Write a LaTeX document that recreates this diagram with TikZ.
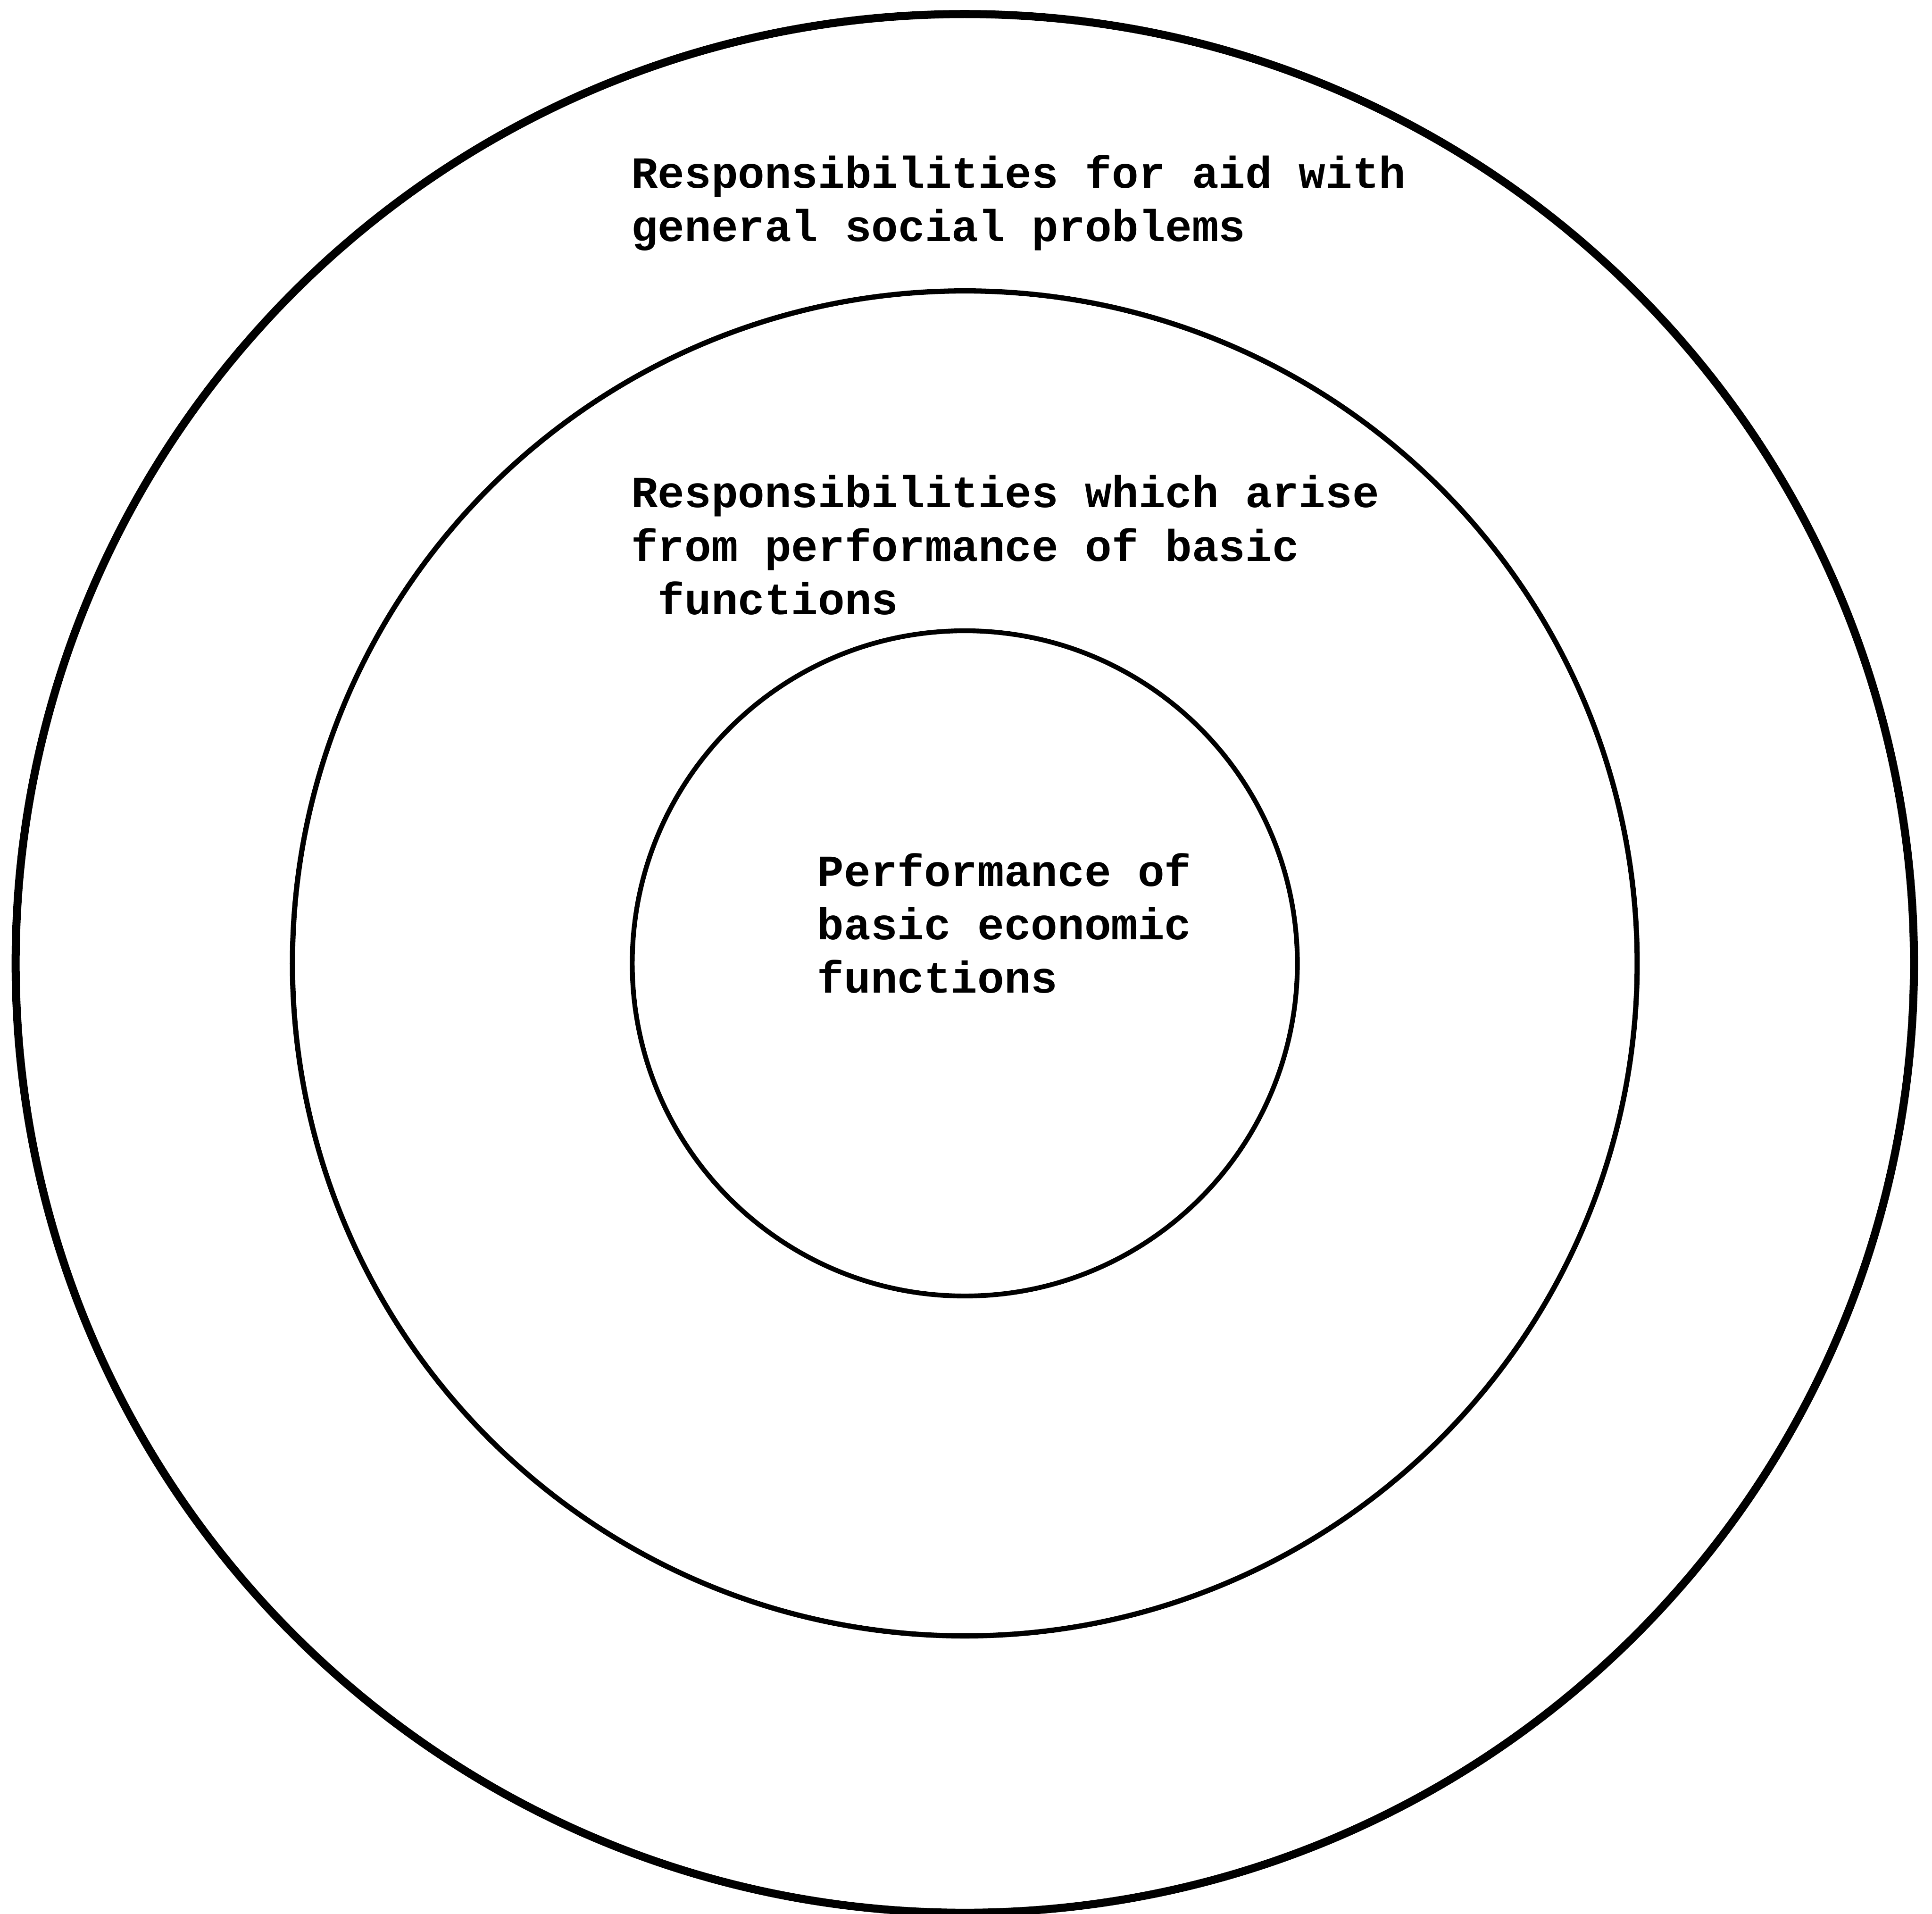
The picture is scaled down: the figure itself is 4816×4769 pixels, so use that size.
\documentclass[tikz,border=0pt]{standalone}
\usepackage{fontspec}
\setmonofont{Liberation Mono}

\begin{document}
\begin{tikzpicture}[
        x=0.005cm,
        y=-0.005cm,
        ring/.style={
            draw,
            line width=#1,
        },
        ringtext/.style={
            font=\ttfamily\bfseries\fontsize{15.8}{19}\selectfont,
            align=left,
            anchor=base west,
            inner sep=0pt,
        },
    ]

    \useasboundingbox (0, 0) rectangle (4816, 4769);
    \coordinate (c) at (2405, 2401);

    \draw[ring=2.85pt] (c) circle[radius=2366];
    \draw[ring=1.85pt] (c) circle[radius=1676];
    \draw[ring=1.7pt] (c) circle[radius=829];

    % anchor is the baseline of the last line
    \node[ringtext] (aidtext) at (1572, 602)
        {Responsibilities for aid with\\general social problems};
    \node[ringtext] (arisetext) at (1572, 1532)
        {Responsibilities which arise\\from performance of basic\\~functions};
    \node[ringtext] (basictext) at (2036, 2475)
        {Performance of\\basic economic\\functions};
\end{tikzpicture}
\end{document}
